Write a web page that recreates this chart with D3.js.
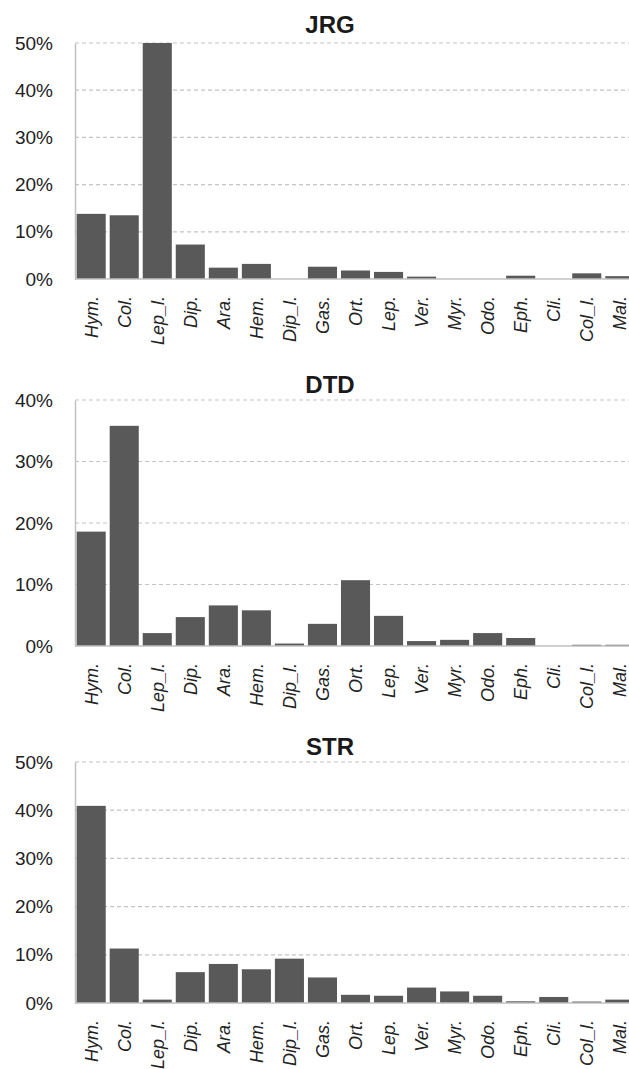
<!DOCTYPE html>
<html>
<head>
<meta charset="utf-8">
<script src="https://cdn.jsdelivr.net/npm/d3@7"></script>
<style>
  html, body { margin: 0; padding: 0; background: #ffffff; }
  svg { display: block; }
</style>
</head>
<body>
<svg id="chart" width="629" height="1069"></svg>
<script>
const categories = ["Hym.", "Col.", "Lep_l.", "Dip.", "Ara.", "Hem.", "Dip_l.", "Gas.", "Ort.", "Lep.", "Ver.", "Myr.", "Odo.", "Eph.", "Cli.", "Col_l.", "Mal."];

const jrgValues = [13.8, 13.5, 50.0, 7.3, 2.4, 3.2, 0, 2.6, 1.8, 1.5, 0.5, 0, 0, 0.7, 0, 1.2, 0.6];
const dtdValues = [18.6, 35.8, 2.1, 4.7, 6.6, 5.8, 0.4, 3.6, 10.7, 4.9, 0.8, 1.0, 2.1, 1.3, 0, 0.2, 0.2];
const strValues = [40.9, 11.3, 0.7, 6.4, 8.1, 7.0, 9.2, 5.3, 1.7, 1.5, 3.2, 2.4, 1.5, 0.35, 1.25, 0.3, 0.7];

const panelTitles = ["JRG", "DTD", "STR"];
const panelMax = [50, 40, 50];
const tickLabelsJRG = [0, 10, 20, 30, 40, 50];
const tickLabelsDTD = [0, 10, 20, 30, 40];
const tickLabelsSTR = [0, 10, 20, 30, 40, 50];

const panels = [
  { title: panelTitles[0], values: jrgValues, max: panelMax[0], ticks: tickLabelsJRG, top: 43, base: 279, titleY: 33 },
  { title: panelTitles[1], values: dtdValues, max: panelMax[1], ticks: tickLabelsDTD, top: 400, base: 646, titleY: 393 },
  { title: panelTitles[2], values: strValues, max: panelMax[2], ticks: tickLabelsSTR, top: 762, base: 1003, titleY: 755 }
];

const svg = d3.select("#chart");
const left = 75, right = 636;
const font = "'Liberation Sans', Arial, Helvetica, sans-serif";

const x = d3.scaleBand().domain(categories).range([left, right]).paddingInner(0.12).paddingOuter(0.05);

panels.forEach(p => {
  const g = svg.append("g");
  const y = d3.scaleLinear().domain([0, p.max]).range([p.base, p.top]);

  // gridlines
  g.selectAll("line.grid").data(p.ticks.filter(t => t > 0)).join("line")
    .attr("class", "grid")
    .attr("x1", left).attr("x2", 629)
    .attr("y1", d => y(d)).attr("y2", d => y(d))
    .attr("stroke", "#c4c4c4").attr("stroke-width", 1.2)
    .attr("stroke-dasharray", "4,3");

  // y axis
  const yAxis = d3.axisLeft(y).tickValues(p.ticks).tickSize(0).tickPadding(22).tickFormat(d => d + "%");
  const ya = g.append("g").attr("transform", `translate(${left},0)`).call(yAxis);
  ya.select(".domain").attr("stroke", "#c0c0c0").attr("stroke-width", 1.5);
  ya.selectAll("text").attr("font-family", font).attr("font-size", 19).attr("fill", "#222");

  // bars
  g.selectAll("rect").data(p.values).join("rect")
    .attr("x", (d, i) => x(categories[i]))
    .attr("width", x.bandwidth())
    .attr("y", d => y(d))
    .attr("height", d => p.base - y(d))
    .attr("fill", "#595959");

  // x axis
  const xAxis = d3.axisBottom(x).tickSize(0).tickPadding(0);
  const xa = g.append("g").attr("transform", `translate(0,${p.base})`).call(xAxis);
  xa.select(".domain").attr("stroke", "#c0c0c0").attr("stroke-width", 1.5).attr("d", `M${left},0H629`);
  xa.selectAll("text")
    .attr("font-family", font).attr("font-size", 18).attr("font-style", "italic").attr("fill", "#222")
    .attr("text-anchor", "end")
    .attr("dy", "0.35em")
    .attr("transform", "translate(0,17) rotate(-90)")
    .attr("x", 0).attr("y", 0);

  // title
  g.append("text")
    .attr("x", 330).attr("y", p.titleY)
    .attr("text-anchor", "middle")
    .attr("font-family", font).attr("font-size", 24).attr("font-weight", "bold").attr("fill", "#1a1a1a")
    .text(p.title);
});
</script>
</body>
</html>
